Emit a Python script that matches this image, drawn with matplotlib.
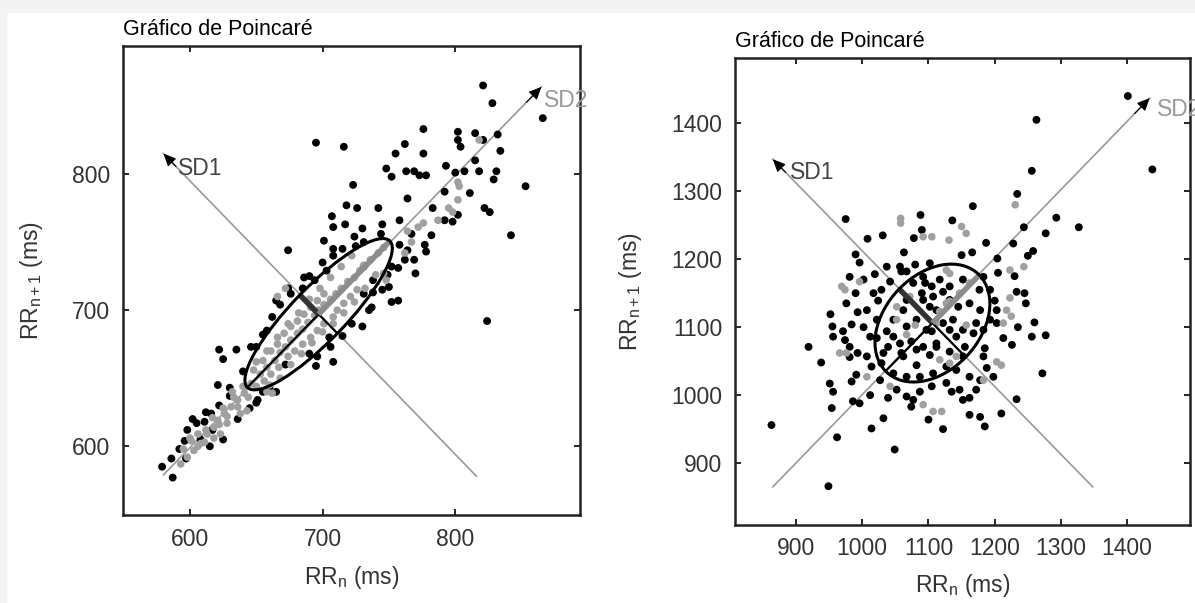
import matplotlib
matplotlib.use("Agg")
import matplotlib.pyplot as plt
from matplotlib.patches import Ellipse, Rectangle

plt.rcParams["font.family"] = ["Liberation Sans", "DejaVu Sans"]
plt.rcParams["mathtext.fontset"] = "custom"
plt.rcParams["mathtext.rm"] = "Liberation Sans"
plt.rcParams["mathtext.it"] = "Liberation Sans"

# ----- DATA (ms) -----
left_black_x = [821, 828, 866, 776, 802, 815, 832, 802, 804, 821, 695, 716, 762, 755, 776, 834, 815, 793,
                748, 752, 763, 769, 773, 778, 800, 807, 818, 831, 829, 792, 811, 853, 723, 764, 718, 726,
                742, 783, 822, 826, 802, 707, 708, 717, 758, 745, 792, 798, 842, 782, 767, 744, 724, 701,
                708, 708, 674, 725, 731, 777, 778, 758, 764, 762, 769, 752, 757, 770, 749, 750, 686, 694,
                703, 674, 685, 665, 668, 731, 738, 737, 752, 757, 730, 715, 706, 824, 696, 708, 695, 622,
                625, 635, 646, 650, 621, 630, 602, 611, 598, 616, 617, 608, 596, 592, 586, 579, 587, 597,
                651, 660, 658, 731, 738,
                605, 612, 622, 630, 615, 625, 636, 645, 655, 655, 662, 676, 690, 700, 715, 730, 672, 690,
                705, 722, 735, 745, 640, 650, 665]
left_black_y = [865, 852, 841, 833, 831, 830, 829, 825, 820, 825, 823, 820, 822, 815, 815, 817, 810, 806,
                804, 798, 802, 802, 799, 799, 801, 802, 802, 802, 796, 787, 786, 791, 792, 782, 777, 775,
                775, 775, 775, 772, 770, 769, 761, 763, 766, 763, 766, 765, 755, 755, 756, 756, 754, 751,
                745, 740, 744, 747, 750, 748, 743, 748, 744, 737, 737, 732, 731, 727, 726, 717, 724, 722,
                729, 716, 716, 707, 704, 712, 713, 702, 706, 707, 688, 681, 673, 692, 666, 662, 659, 671,
                664, 671, 673, 673, 645, 643, 620, 618, 612, 624, 612, 605, 604, 598, 591, 585, 577, 591,
                634, 643, 685, 732, 722,
                617, 625, 630, 637, 600, 605, 620, 628, 640, 682, 695, 712, 725, 735, 745, 760, 660, 668,
                680, 690, 700, 715, 655, 632, 640]

left_gray_x = [646, 653, 658, 664, 668, 672, 676, 681, 685, 689, 694, 697, 701, 706, 710, 714, 719, 724,
               728, 731, 736, 742, 746, 656, 661, 667, 674, 679, 685, 691, 696, 701, 708, 711, 716, 721,
               726, 648, 655, 661, 666, 671, 676, 681, 686, 691, 696, 701, 641, 636, 631, 626, 621, 618,
               613, 608, 603, 598, 593, 633, 638, 628, 623, 618, 606, 662, 658, 643, 601, 776, 787, 798,
               802, 803, 802, 795, 764, 772, 767, 762, 746, 748, 818, 672, 666,
               660, 668, 676, 684, 692, 700, 708, 716, 724, 732, 740, 650, 658, 666, 674, 682, 690, 698,
               706, 714, 722, 595, 600, 612, 617, 625, 632, 640, 606, 611, 622, 628, 636, 644, 650]
left_gray_y = [646, 653, 658, 663, 669, 673, 678, 683, 686, 691, 696, 700, 704, 708, 712, 716, 721, 724,
               729, 733, 737, 742, 746, 648, 653, 658, 666, 670, 675, 680, 685, 690, 695, 700, 705, 710,
               715, 656, 663, 670, 675, 683, 688, 692, 697, 702, 707, 712, 639, 634, 629, 624, 619, 614,
               609, 602, 597, 592, 587, 636, 624, 617, 609, 606, 609, 639, 640, 626, 604, 764, 766, 772,
               794, 791, 781, 775, 758, 761, 750, 742, 727, 722, 825, 716, 710,
               645, 650, 660, 668, 676, 684, 690, 698, 706, 716, 726, 662, 670, 680, 690, 698, 708, 716,
               724, 732, 740, 598, 606, 612, 621, 628, 640, 644, 600, 603, 616, 622, 629, 636, 644]

right_black_x = [1401, 1263, 1256, 1438, 1234, 1167, 975, 1088, 1136, 1293, 1327, 1244, 1277, 1031, 1008,
                 1078, 1090, 1187, 1228, 1063, 990, 996, 1150, 1166, 1258, 1250, 1204, 1230, 1205, 1019,
                 1037, 1057, 1080, 1102, 1117, 1095, 1077, 1067, 1152, 1090, 1107, 1122, 1092, 1002, 990,
                 976, 1024, 1233, 1245, 1247, 1200, 1235, 1260, 1256, 1277, 1226, 952, 955, 993, 984,
                 1002, 971, 974, 981, 993, 1007, 919, 938, 1047, 1062, 1037, 1022, 1105, 1092, 1074, 1122,
                 1137, 1145, 1162, 1178, 1172, 1183, 1185, 1168, 1155, 1132, 1102, 1082, 1067, 1029, 1014,
                 951, 956, 991, 984, 986, 996, 954, 1012, 1039, 1052, 1067, 1077, 1087, 1105, 1127, 1135,
                 1147, 1152, 1162, 1172, 1178, 1188, 1198, 1183, 1233, 1272, 1162, 1178, 1185, 1210, 1122,
                 1100, 1074, 1032, 1014, 962, 1049, 863, 949, 1105, 1067, 1112, 1132, 1057, 1132, 1112,
                 1152, 1127, 1062, 1087,
                 1059, 1092, 1132, 1102, 1082, 1097, 1067, 1047, 1039, 1059, 1082, 1112, 1142, 1152, 1193,
                 1203, 1193, 1177, 1029, 1042, 1017, 1007, 1022, 1012, 1032, 1047, 1027, 1107, 1142, 1162,
                 1213, 1203, 1183, 981, 981, 956]
right_black_y = [1440, 1405, 1330, 1332, 1296, 1278, 1259, 1265, 1257, 1261, 1247, 1247, 1238, 1235, 1230,
                 1231, 1243, 1224, 1223, 1210, 1207, 1195, 1206, 1210, 1212, 1205, 1201, 1175, 1180, 1178,
                 1189, 1189, 1192, 1194, 1170, 1165, 1165, 1182, 1170, 1150, 1145, 1152, 1140, 1170, 1150,
                 1135, 1139, 1152, 1150, 1135, 1139, 1100, 1107, 1086, 1088, 1074, 1119, 1101, 1122, 1104,
                 1100, 1094, 1081, 1056, 1062, 1057, 1071, 1048, 1111, 1125, 1094, 1084, 1094, 1071, 1079,
                 1106, 1111, 1130, 1135, 1125, 1106, 1096, 1069, 1091, 1071, 1064, 1059, 1044, 1027, 1047,
                 1042, 1017, 1005, 1030, 1020, 991, 988, 981, 1000, 996, 1008, 998, 993, 1005, 1013, 1018,
                 1005, 1008, 993, 996, 1008, 1022, 1040, 1027, 1057, 994, 1032, 971, 968, 954, 973, 950,
                 964, 983, 966, 951, 938, 920, 956, 866, 1160, 1140, 1125, 1140, 1076, 1096, 1076, 1057,
                 1042, 1057, 1027,
                 1182, 1174, 1160, 1130, 1111, 1096, 1101, 1086, 1071, 1062, 1067, 1071, 1086, 1096, 1111,
                 1125, 1155, 1155, 1155, 1167, 1150, 1125, 1111, 1086, 1062, 1032, 1022, 1032, 1037, 1027,
                 1084, 1106, 1174, 1174, 1071, 1086]

right_gray_x = [1231, 1058, 1058, 1150, 1157, 1092, 1105, 1131, 1244, 1127, 1132, 974, 969, 1223, 1225,
                966, 1052, 1067, 1080, 1157, 1117, 1203, 1210, 1092, 1107, 1120, 1117, 1132, 1147, 1162,
                996, 976, 1052, 1112, 1127, 1072, 1142, 1132, 1183, 1042, 1007, 1223, 1218, 1213]
right_gray_y = [1280, 1260, 1253, 1248, 1238, 1233, 1233, 1228, 1189, 1184, 1179, 1155, 1160, 1143, 1116,
                1062, 1130, 1089, 1103, 1103, 1052, 1049, 1044, 986, 976, 976, 1123, 1138, 1150, 1165,
                1167, 1062, 1111, 1106, 1135, 1145, 1057, 1047, 1022, 1013, 1027, 1184, 1125, 1106]

# Poincare descriptors: centre, SD1, SD2 and the two guide lines
left_center = (697, 697)
left_sd1, left_sd2 = 20, 76
left_sd1_line = [(816, 578), (580, 815)]
left_sd2_line = [(580, 579), (865, 864)]
left_lim = (549.5, 894)
left_ticks = [600, 700, 800]

right_center = (1106, 1106)
right_sd1, right_sd2 = 71, 100
right_sd1_line = [(1348, 865), (865, 1347)]
right_sd2_line = [(865, 865), (1434, 1437)]
right_xlim = (808, 1495)
right_ylim = (809, 1496)
right_ticks = [900, 1000, 1100, 1200, 1300, 1400]

title = "Gráfico de Poincaré"


def draw_arrow_line(ax, line):
    (x0, y0), (x1, y1) = line
    ax.plot([x0, x1], [y0, y1], color="#999999", lw=1.2, zorder=1)
    back = 0.04
    ax.annotate("", xy=(x1, y1), xytext=(x1 - (x1 - x0) * back, y1 - (y1 - y0) * back),
                arrowprops=dict(arrowstyle="-|>,head_length=0.55,head_width=0.25", color="black",
                                lw=0.8, shrinkA=0, shrinkB=0, mutation_scale=14), zorder=4)


def draw_poincare(ax, bx, by, gx, gy, center, sd1, sd2, l1, l2):
    draw_arrow_line(ax, l1)
    draw_arrow_line(ax, l2)
    ax.scatter(bx, by, s=32, color="black", edgecolors="none", zorder=2)
    ax.scatter(gx, gy, s=30, color="#a0a0a0", edgecolors="none", zorder=2)

    cx, cy = center
    d = 0.70710678
    # ellipse axes
    ax.plot([cx - sd2 * d, cx + sd2 * d], [cy - sd2 * d, cy + sd2 * d], color="black", lw=1.6, zorder=3)
    ax.plot([cx - sd1 * d, cx + sd1 * d], [cy + sd1 * d, cy - sd1 * d], color="black", lw=1.6, zorder=3)
    ax.plot([cx, cx - sd1 * d], [cy, cy + sd1 * d], color="#333333", lw=4, solid_capstyle="butt", zorder=3)
    ax.plot([cx, cx + sd2 * d], [cy, cy + sd2 * d], color="#8c8c8c", lw=4, solid_capstyle="butt", zorder=3)
    ax.add_patch(Ellipse(center, 2 * sd2, 2 * sd1, angle=45, fill=False, edgecolor="black", lw=2.2, zorder=3))


def style_axes(ax):
    for sp in ax.spines.values():
        sp.set_linewidth(1.8)
        sp.set_color("#222222")
    ax.tick_params(direction="in", length=4, width=1.2, top=True, right=True,
                   labelsize=16.5, labelcolor="#333333", pad=9)
    ax.set_xlabel(r"RR$_\mathrm{n}$ (ms)", fontsize=16.5, color="#333333")
    ax.set_ylabel(r"RR$_\mathrm{n+1}$ (ms)", fontsize=16.5, color="#333333")
    ax.set_title(title, loc="left", fontsize=15.5, color="black", pad=8)


fig = plt.figure(figsize=(11.95, 6.03), dpi=100)
fig.patches.append(Rectangle((0, 0.98), 1, 0.02, transform=fig.transFigure, color="#f3f3f3", zorder=0))
fig.patches.append(Rectangle((0, 0), 0.005, 1, transform=fig.transFigure, color="#f3f3f3", zorder=0))

ax1 = fig.add_axes([0.1029, 0.1459, 0.3824, 0.7778])
draw_poincare(ax1, left_black_x, left_black_y, left_gray_x, left_gray_y,
              left_center, left_sd1, left_sd2, left_sd1_line, left_sd2_line)
ax1.set_xlim(left_lim)
ax1.set_ylim(left_lim)
ax1.set_xticks(left_ticks)
ax1.set_yticks(left_ticks)
style_axes(ax1)
ax1.text(591, 804, "SD1", fontsize=16.5, color="#444444", va="center")
ax1.text(867, 854, "SD2", fontsize=16.5, color="#999999", va="center")
ax1.xaxis.set_label_coords(0.5, -0.105)
ax1.yaxis.set_label_coords(-0.17, 0.5)

ax2 = fig.add_axes([0.6151, 0.1294, 0.3808, 0.7745])
draw_poincare(ax2, right_black_x, right_black_y, right_gray_x, right_gray_y,
              right_center, right_sd1, right_sd2, right_sd1_line, right_sd2_line)
ax2.set_xlim(right_xlim)
ax2.set_ylim(right_ylim)
ax2.set_xticks(right_ticks)
ax2.set_yticks(right_ticks)
style_axes(ax2)
ax2.text(891, 1328, "SD1", fontsize=16.5, color="#444444", va="center")
# the reference cuts this label at the right edge of the figure
ax2.text(1445, 1420, "SD2", fontsize=16.5, color="#999999", va="center")
ax2.xaxis.set_label_coords(0.5, -0.10)
ax2.yaxis.set_label_coords(-0.2, 0.5)

fig.savefig("out.png", dpi=100)
